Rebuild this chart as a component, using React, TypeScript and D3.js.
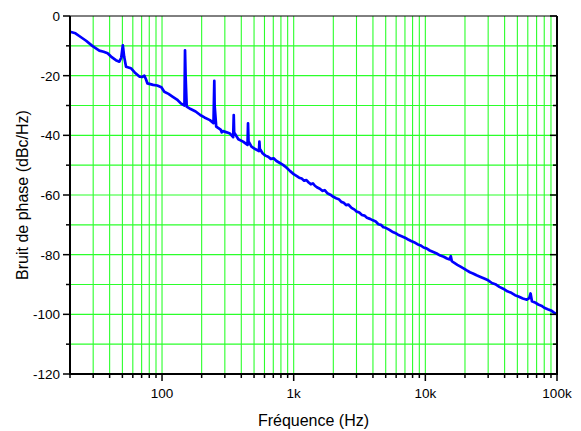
import React from "react";
import * as d3 from "d3";

const freqHz: number[] = [
  20, 22, 23.5, 26.5, 29.7, 33.4, 36, 38.6, 41, 44.6, 47.4, 49, 50.4, 51.5, 53.3, 58, 62, 67.3, 71, 73.4, 75.5, 77.5, 85.6, 92, 98.9, 104, 112, 120, 130, 139, 145,
  148, 149.5, 151, 154, 165, 180, 195, 210, 231, 246, 249.5, 251, 258, 270, 280, 284, 290, 310, 328, 347, 350.5, 353, 380, 413, 446, 450, 454, 478, 510, 545, 549, 553,
  580, 610, 640, 670, 704, 740, 780, 830, 880, 940,
  1000, 1050, 1100, 1150, 1200, 1250, 1300, 1350, 1400, 1450, 1500, 1580, 1650, 1720, 1800, 1900, 2000, 2100, 2200, 2300, 2400, 2500, 2600, 2750, 2900, 3000,
  3150, 3300, 3450, 3600, 3800, 4000, 4200, 4400, 4600, 4800, 5000, 5300, 5600, 5900, 6200, 6600, 7000, 7400, 7800, 8200, 8700, 9200, 9700, 10200, 10800,
  11500, 12200, 13000, 13800, 14600, 15300, 15600, 15900, 16500, 17500, 18500, 19500, 20500, 21800, 23000, 24500, 26000, 28000, 30000, 32000, 34000,
  36500, 39000, 42000, 45000, 48000, 51000, 55000, 59000, 61500, 63000, 64500, 68000, 72000, 76000, 80000, 85000, 90000, 95000, 100000,
];

const phaseNoise: number[] = [
  -5.3, -5.8, -6.7, -8.3, -10.1, -11.6, -12.0, -12.5, -13.6, -14.8, -15.3, -14.0, -9.8, -13.5, -17.0, -17.5, -18.9, -20.3, -20.4, -20.0, -21.2, -22.6, -23.1, -23.3, -23.9, -25.4, -26.1, -27.0, -28.0, -29.3, -29.8,
  -30.0, -11.5, -20.0, -30.4, -31.2, -32.0, -33.2, -34.0, -34.9, -35.9, -21.7, -30.0, -37.1, -37.7, -38.2, -39.0, -38.6, -39.0, -39.4, -40.6, -33.2, -39.0, -41.3, -42.1, -43.2, -36.0, -42.0, -43.8, -44.6, -45.3, -42.1, -44.5,
  -46.0, -46.8, -47.2, -47.9, -47.7, -48.6, -49.2, -49.9, -50.8, -52.0,
  -53.0, -53.6, -54.2, -54.5, -55.2, -55.0, -55.8, -56.4, -56.1, -56.9, -57.4, -57.9, -58.6, -58.4, -59.4, -59.9, -60.6, -61.1, -61.4, -62.3, -62.6, -63.4, -63.2, -64.3, -64.9, -65.5,
  -65.9, -66.7, -66.9, -67.6, -68.0, -68.5, -68.9, -69.8, -70.0, -70.8, -71.0, -71.6, -72.3, -72.7, -73.3, -73.8, -74.3, -74.9, -75.4, -75.8, -76.5, -76.9, -77.6, -77.9, -78.6,
  -79.1, -79.6, -80.3, -80.7, -81.3, -81.6, -80.5, -82.2, -82.7, -83.4, -84.0, -84.6, -85.2, -85.9, -86.3, -86.9, -87.4, -88.0, -88.6, -89.5, -89.9,
  -90.8, -91.4, -92.3, -92.8, -93.6, -94.0, -94.7, -95.1, -94.6, -93.0, -95.6, -96.0, -96.7, -97.1, -97.8, -98.3, -98.7, -99.4, -100.0,
];

const yTickValues: number[] = [-120, -100, -80, -60, -40, -20, 0];
const yMinorValues: number[] = [-110, -90, -70, -50, -30, -10];
const xMajorValues: number[] = [100, 1000, 10000, 100000];
const xMajorLabels: string[] = ["100", "1k", "10k", "100k"];
const xTitle = "Fréquence (Hz)";
const yTitle = "Bruit de phase (dBc/Hz)";

const W = 581;
const H = 431;
const left = 70;
const right = 557;
const top = 16;
const bottom = 374;
const font = "'Liberation Sans', Arial, sans-serif";

export default function App() {
  const x = d3.scaleLog().domain([20, 100000]).range([left, right]);
  const y = d3.scaleLinear().domain([-120, 0]).range([bottom, top]);

  const xMinor: number[] = [];
  for (let dec = 10; dec <= 10000; dec *= 10) {
    for (let m = 2; m <= 9; m++) {
      const v = dec * m;
      if (v > 20 && v < 100000) xMinor.push(v);
    }
  }
  const xGrid = [...xMinor, ...xMajorValues.filter((v) => v < 100000)].sort((a, b) => a - b);
  const yGrid = d3.range(-110, 0, 10);

  const data = freqHz.map((f, i) => [f, phaseNoise[i]] as [number, number]);
  const line = d3
    .line<[number, number]>()
    .x((d) => x(d[0]))
    .y((d) => y(d[1]));

  return (
    <svg
      width={W}
      height={H}
      style={{ position: "absolute", left: 0, top: 0, background: "#fff" }}
      fontFamily={font}
    >
      {/* grid */}
      {xGrid.map((v) => (
        <line key={"gx" + v} x1={x(v)} x2={x(v)} y1={top} y2={bottom} stroke="#2bff2b" strokeWidth={1.1} />
      ))}
      {yGrid.map((v) => (
        <line key={"gy" + v} x1={left} x2={right} y1={y(v)} y2={y(v)} stroke="#2bff2b" strokeWidth={1.1} />
      ))}

      {/* data */}
      <path d={line(data) || ""} fill="none" stroke="#0000ff" strokeWidth={2.7} strokeLinejoin="round" />

      {/* frame */}
      <line x1={left} x2={right} y1={top} y2={top} stroke="#000" strokeWidth={1} />
      <line x1={right} x2={right} y1={top} y2={bottom + 1} stroke="#000" strokeWidth={2} />
      <line x1={left} x2={left} y1={top} y2={bottom + 1} stroke="#000" strokeWidth={2} />
      <line x1={left - 1} x2={right + 1} y1={bottom} y2={bottom} stroke="#000" strokeWidth={2} />

      {/* y ticks */}
      {yTickValues.map((v) => (
        <g key={"yt" + v}>
          <line x1={left - 7} x2={left} y1={y(v)} y2={y(v)} stroke="#000" strokeWidth={1.5} />
          <line x1={right - 7} x2={right} y1={y(v)} y2={y(v)} stroke="#000" strokeWidth={1.5} />
          <text x={60} y={y(v)} dy="0.36em" textAnchor="end" fontSize={13.5} fill="#000">
            {v}
          </text>
        </g>
      ))}
      {yMinorValues.map((v) => (
        <g key={"ym" + v}>
          <line x1={left - 4} x2={left} y1={y(v)} y2={y(v)} stroke="#000" strokeWidth={1.5} />
          <line x1={right - 4} x2={right} y1={y(v)} y2={y(v)} stroke="#000" strokeWidth={1.5} />
        </g>
      ))}

      {/* x ticks */}
      {[20, ...xMinor].map((v) => (
        <line key={"xm" + v} x1={x(v)} x2={x(v)} y1={bottom} y2={bottom + 4} stroke="#000" strokeWidth={1.5} />
      ))}
      {xMajorValues.map((v, i) => (
        <g key={"xt" + v}>
          <line x1={x(v)} x2={x(v)} y1={bottom} y2={bottom + 7} stroke="#000" strokeWidth={1.5} />
          <text x={x(v)} y={398} textAnchor="middle" fontSize={13.5} fill="#000">
            {xMajorLabels[i]}
          </text>
        </g>
      ))}

      {/* titles */}
      <text x={(left + right) / 2} y={426} textAnchor="middle" fontSize={16} fill="#000">
        {xTitle}
      </text>
      <text
        transform={`translate(28,${(top + bottom) / 2}) rotate(-90)`}
        textAnchor="middle"
        fontSize={16}
        fill="#000"
      >
        {yTitle}
      </text>
    </svg>
  );
}
